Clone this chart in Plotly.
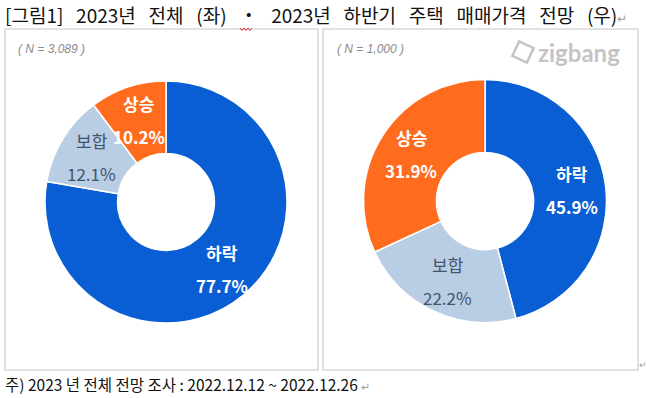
import math
import plotly.graph_objects as go

# ---- data ----
categories = ["하락", "보합", "상승"]
values_2023_total = [77.7, 12.1, 10.2]
values_2023_h2 = [45.9, 22.2, 31.9]
n_labels = ["( N = 3,089 )", "( N = 1,000 )"]
title_words = ["[그림1]", "2023년", "전체", "(좌)", "・", "2023년", "하반기", "주택", "매매가격", "전망", "(우)"]
footer_text = "주) 2023 년 전체 전망 조사 : 2022.12.12 ~ 2022.12.26"

# ---- style ----
W, H = 647, 398
colors = {"하락": "#0A5ED3", "보합": "#B9CDE5", "상승": "#FF6C1E"}
text_colors = {"하락": "#FFFFFF", "보합": "#44546A", "상승": "#FFFFFF"}
KR = "Noto Sans CJK KR, Noto Sans, sans-serif"
NB = "\u00a0"

def px(x):
    return x / W

def py(y):
    return 1 - y / H

pies = [
    dict(cx=166, cy=202, r=121, vals=values_2023_total),
    dict(cx=485, cy=201, r=121.5, vals=values_2023_h2),
]
HOLE = 0.40

fig = go.Figure()
annotations = []
shapes = []

for p in pies:
    cx, cy, r = p["cx"], p["cy"], p["r"]
    fig.add_trace(go.Pie(
        labels=categories,
        values=p["vals"],
        sort=False,
        direction="clockwise",
        rotation=0,
        hole=HOLE,
        marker=dict(colors=[colors[c] for c in categories],
                    line=dict(color="white", width=1.5)),
        textinfo="none",
        hoverinfo="label+percent",
        showlegend=False,
        domain=dict(x=[px(cx - r), px(cx + r)], y=[py(cy + r), py(cy - r)]),
    ))
    total = sum(p["vals"])
    cum = 0.0
    for c, v in zip(categories, p["vals"]):
        mid = (cum + v / 2) / total * 2 * math.pi
        cum += v
        rr = r * 0.72
        lx = cx + rr * math.sin(mid)
        ly = cy - rr * math.cos(mid)
        bold = c != "보합"
        for txt, dy in ((c, -16), (f"{v:.1f}%", 17)):
            annotations.append(dict(
                x=px(lx), y=py(ly + dy), xref="paper", yref="paper",
                text=f"<b>{txt}</b>" if bold else txt,
                showarrow=False, xanchor="center", yanchor="middle",
                font=dict(family=KR, size=17, color=text_colors[c]),
            ))

# panel frames
for x0, x1 in ((5, 318), (323, 638)):
    shapes.append(dict(type="rect", xref="paper", yref="paper",
                       x0=px(x0), x1=px(x1), y0=py(370), y1=py(29),
                       line=dict(color="#D9D9D9", width=1.5), fillcolor="rgba(0,0,0,0)"))

# N labels
for x, t in ((16, n_labels[0]), (335, n_labels[1])):
    annotations.append(dict(x=px(x), y=py(49), xref="paper", yref="paper",
                            text=f"<i>{t}</i>", showarrow=False,
                            xanchor="left", yanchor="middle",
                            font=dict(family="Liberation Sans, Arial", size=12, color="#8C8C8C")))

# title
title_text = (NB * 3).join(title_words)
annotations.append(dict(x=px(3), y=py(14), xref="paper", yref="paper",
                        text=title_text + "<span style='color:#A0A0A0;font-size:12px'>↵</span>",
                        showarrow=False, xanchor="left", yanchor="middle",
                        font=dict(family=KR, size=19, color="#111111")))
# red wavy mark under the middle dot
wave = "M " + " L ".join(f"{px(240 + i * 2):.5f},{py(28 + (i % 2) * 2.5):.5f}" for i in range(7))
shapes.append(dict(type="path", xref="paper", yref="paper", path=wave,
                   line=dict(color="#E03030", width=1)))
# footer
annotations.append(dict(x=px(3), y=py(384), xref="paper", yref="paper",
                        text=footer_text + " <span style='color:#A0A0A0;font-size:11px'>↵</span>",
                        showarrow=False, xanchor="left", yanchor="middle",
                        font=dict(family=KR, size=15.5, color="#111111")))
# return mark near right panel
annotations.append(dict(x=px(637), y=py(364), xref="paper", yref="paper",
                        text="↵", showarrow=False, xanchor="left", yanchor="middle",
                        font=dict(family=KR, size=9, color="#A0A0A0")))

# zigbang logo
annotations.append(dict(x=px(536), y=py(52), xref="paper", yref="paper",
                        text="<b>zigbang</b>", showarrow=False,
                        xanchor="left", yanchor="middle",
                        font=dict(family="Lato, Roboto, sans-serif", size=24, color="#C4C4C4")))
icx, icy, s = 523, 52, 8
ang = math.radians(25)
pts = []
for dx, dy in ((-s, -s), (s, -s), (s, s), (-s, s)):
    pts.append((icx + dx * math.cos(ang) - dy * math.sin(ang),
                icy + dx * math.sin(ang) + dy * math.cos(ang)))
path = "M " + " L ".join(f"{px(a):.5f},{py(b):.5f}" for a, b in pts) + " Z"
shapes.append(dict(type="path", xref="paper", yref="paper", path=path,
                   line=dict(color="#C4C4C4", width=2.5), fillcolor="rgba(0,0,0,0)"))

fig.update_layout(
    width=W, height=H,
    margin=dict(l=0, r=0, t=0, b=0),
    paper_bgcolor="white", plot_bgcolor="white",
    annotations=annotations, shapes=shapes,
)

fig.write_html("out.html", config={"displayModeBar": False},
               post_script="document.body.style.margin='0';document.body.style.overflow='hidden';")
